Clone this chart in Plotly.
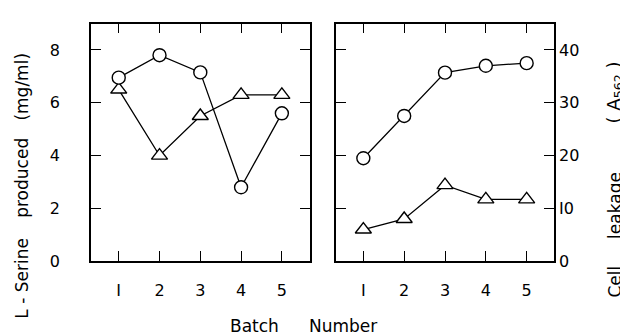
import plotly.graph_objects as go

batch = [1, 2, 3, 4, 5]
serine_circle = [6.95, 7.8, 7.15, 2.8, 5.6]
serine_triangle = [6.5, 4.0, 5.5, 6.3, 6.3]
leak_circle = [19.5, 27.5, 35.7, 37.0, 37.5]
leak_triangle = [6.0, 8.0, 14.4, 11.7, 11.7]
x_ticks = [1, 2, 3, 4, 5]
x_ticktext = ["I", "2", "3", "4", "5"]
left_yticks = [0, 2, 4, 6, 8]
right_yticks = [0, 10, 20, 30, 40]
right_yticktext = ["0", "I0", "20", "30", "40"]

FONT = "DejaVu Sans"
fig = go.Figure()

def add(x, y, sym, xa, ya):
    fig.add_trace(go.Scatter(
        x=x, y=y, xaxis=xa, yaxis=ya, mode="lines+markers",
        line=dict(color="black", width=1.3),
        marker=dict(symbol=sym, size=13 if sym == "circle" else 14, color="white",
                    line=dict(color="black", width=1.4)),
        showlegend=False, cliponaxis=False))

add(batch, serine_triangle, "triangle-up", "x", "y")
add(batch, serine_circle, "circle", "x", "y")
add(batch, leak_triangle, "triangle-up", "x2", "y2")
add(batch, leak_circle, "circle", "x2", "y2")

axis_common = dict(showline=True, linecolor="black", linewidth=1.6, mirror="ticks",
                   ticks="inside", ticklen=10, tickwidth=1.4, tickcolor="black",
                   showgrid=False, zeroline=False,
                   tickfont=dict(family=FONT, size=16, color="black"))

yb, yt = (336 - 261) / 336, (336 - 16) / 336
fig.update_layout(
    width=628, height=336, margin=dict(l=0, r=0, t=0, b=0),
    paper_bgcolor="white", plot_bgcolor="white",
    xaxis=dict(domain=[83 / 628, 302 / 628], range=[0.32, 5.69], tickvals=x_ticks,
               ticktext=x_ticktext, anchor="y", ticklabelstandoff=14, **axis_common),
    yaxis=dict(domain=[yb, yt], range=[0, 9], tickvals=left_yticks, anchor="x",
               ticklabelstandoff=26, **axis_common),
    xaxis2=dict(domain=[328 / 628, 546 / 628], range=[0.33, 5.67], tickvals=x_ticks,
                ticktext=x_ticktext, anchor="y2", ticklabelstandoff=14, **axis_common),
    yaxis2=dict(domain=[yb, yt], range=[0, 45], tickvals=right_yticks,
                ticktext=right_yticktext, anchor="x2", side="right",
                ticklabelstandoff=0, **axis_common),
)

def label(text, x, y, angle, size=17):
    fig.add_annotation(text=text, xref="paper", yref="paper",
                       x=x / 628, y=(336 - y) / 336, textangle=angle, showarrow=False,
                       xanchor="center", yanchor="middle",
                       font=dict(family=FONT, size=size, color="black"))

label("L - Serine", 14, 279, -90)
label("produced", 14, 175, -90)
label("(mg/ml)", 14, 81, -90)
label("Cell", 607, 282, -90)
label("leakage", 607, 204, -90)
label("( A<sub>562</sub> )", 607, 87, -90, 18)
label("Batch", 246, 328, 0)
label("Number", 335, 328, 0)

fig.write_html("out.html")
